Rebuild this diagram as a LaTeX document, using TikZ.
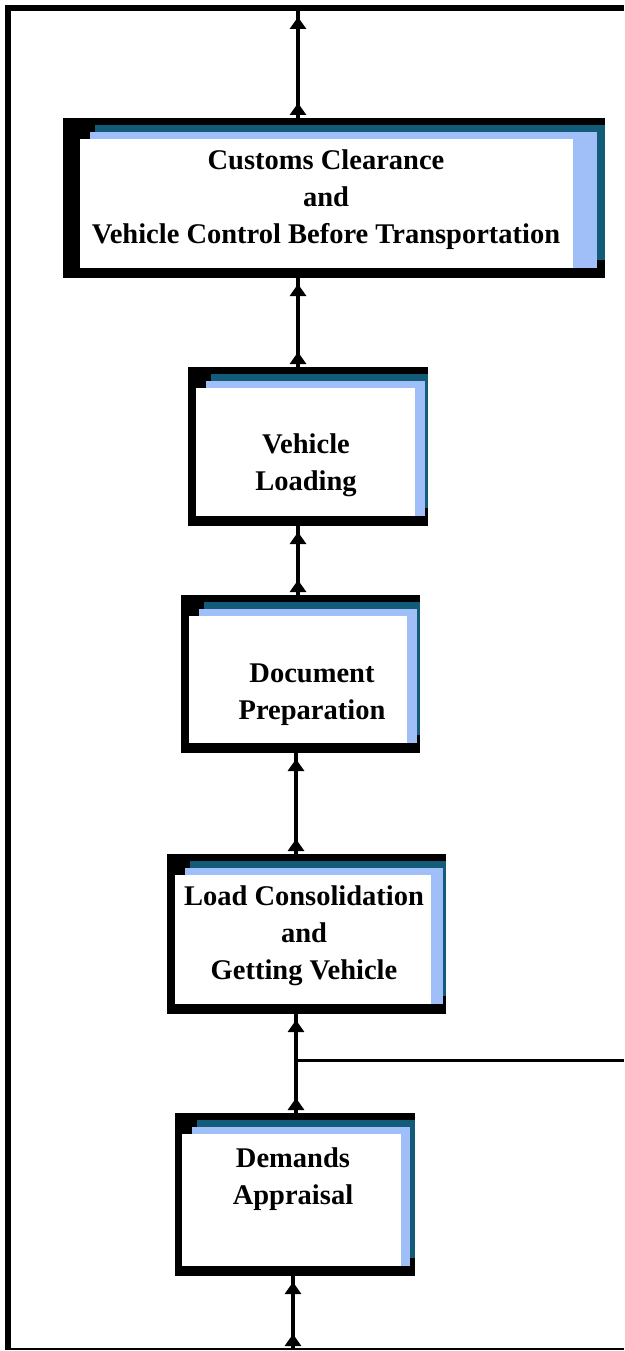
\documentclass[tikz,border=0pt]{standalone}
\usepackage{fontspec}
\setmainfont{Liberation Serif}
\usetikzlibrary{arrows.meta,decorations.markings,calc}
\definecolor{pageteal}{RGB}{18,92,122}
\definecolor{pageblue}{RGB}{160,190,248}
\newcommand\pagelayers[4]{%
  \fill[pageteal] ([shift={(#2+15,7)}]#1.north west) rectangle ([shift={(0,-18)}]#1.south east);
  \fill[pageblue] ([shift={(#2+10,14)}]#1.north west) rectangle ([shift={(-#4,-10)}]#1.south east);
  \fill[white] ([shift={(#2,21)}]#1.north west) rectangle ([shift={(-#3,-10)}]#1.south east);
}
\begin{document}
\begin{tikzpicture}[x=1pt,y=-1pt,
  outerbox/.style={fill=black,draw=none,inner sep=0pt,outer sep=0pt,anchor=north west},
  boxtext/.style={align=center,font=\fontsize{28.5}{37}\selectfont\bfseries,inner sep=0pt},
  conn/.style={line width=3.2pt,postaction={decorate},
    decoration={markings,
      mark=at position 15pt with {\arrow{Triangle[width=16pt,length=12pt]}},
      mark=at position -6pt with {\arrow{Triangle[width=16pt,length=12pt]}}}},
  branchline/.style={line width=3pt}
  ]
\useasboundingbox (0,0) rectangle (624,1351);
% frame
\fill[black] (5,5) rectangle (624,11);
\fill[black] (5,5) rectangle (11,1350);
\draw[line width=2.4pt] (5,1349) -- (624,1349);

% boxes
\node[outerbox,minimum width=542pt,minimum height=160pt] (cust) at (63,118) {};
\pagelayers{cust}{17}{32}{8}
\node[outerbox,minimum width=240pt,minimum height=159pt] (load) at (188,367) {};
\pagelayers{load}{8}{13}{3}
\node[outerbox,minimum width=239pt,minimum height=158pt] (doc) at (181,595) {};
\pagelayers{doc}{8}{13}{3}
\node[outerbox,minimum width=279pt,minimum height=160pt] (cons) at (167,854) {};
\pagelayers{cons}{8}{15}{3}
\node[outerbox,minimum width=240pt,minimum height=163pt] (dem) at (175,1113) {};
\pagelayers{dem}{7}{14}{5}

% texts
\node[boxtext] (custt) at (326,200) {Customs Clearance\\and\\Vehicle Control Before Transportation};
\node[boxtext] (loadt) at (306,465.5) {Vehicle\\Loading};
\node[boxtext] (doct) at (312,694.5) {Document\\Preparation};
\node[boxtext] (const) at (304,935.5) {Load Consolidation\\and\\Getting Vehicle};
\node[boxtext] (demt) at (293,1179) {Demands\\Appraisal};

% connector columns
\coordinate (xa) at (298,0);
\coordinate (xb) at (296,0);
\coordinate (xc) at (293,0);
\coordinate (topend) at (298,11);
\coordinate (botend) at (293,1349);
\coordinate (branch) at (296,1060);
\coordinate (branchend) at (624,1060);

\draw[conn] (cust.north -| xa) -- (topend);
\draw[conn] (load.north -| xa) -- (cust.south -| xa);
\draw[conn] (doc.north -| xa) -- (load.south -| xa);
\draw[conn] (cons.north -| xb) -- (doc.south -| xb);
\draw[conn] (dem.north -| xb) -- (cons.south -| xb);
\draw[conn] (botend) -- (dem.south -| xc);
\draw[branchline] (branch) -- (branchend);
\end{tikzpicture}
\end{document}
